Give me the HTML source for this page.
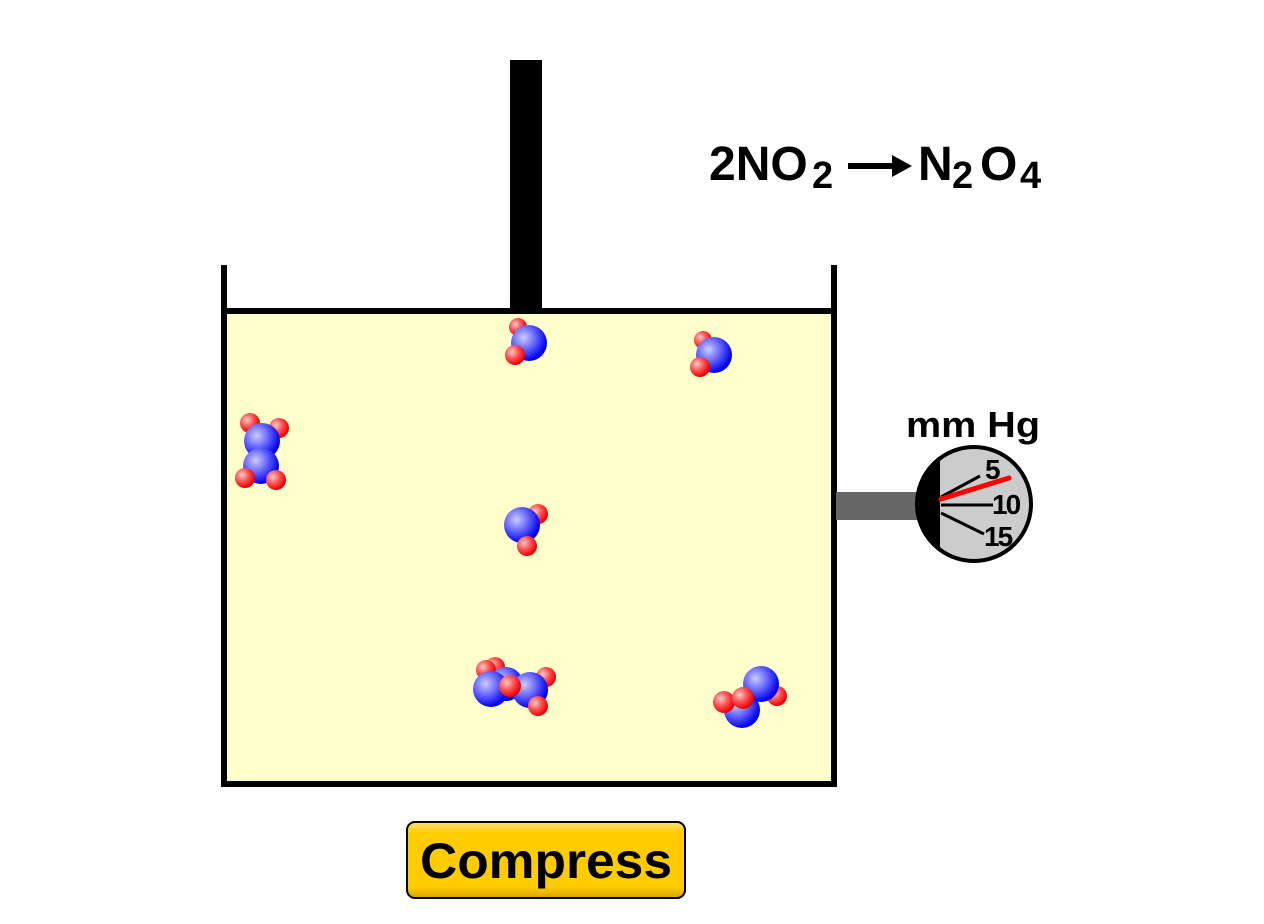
<!DOCTYPE html>
<html><head><style>body{margin:0;background:#fff}svg{display:block}</style></head><body>
<svg width="1264" height="924" viewBox="0 0 1264 924" font-family="Liberation Sans, Arial, sans-serif">
<defs>
<radialGradient id="b" cx="0.35" cy="0.35" r="0.65"><stop offset="0" stop-color="#ccccff"/><stop offset="0.5" stop-color="#6666ff"/><stop offset="1" stop-color="#0000ee"/></radialGradient>
<radialGradient id="r" cx="0.35" cy="0.35" r="0.65"><stop offset="0" stop-color="#ffcccc"/><stop offset="0.5" stop-color="#ff5555"/><stop offset="1" stop-color="#ee0000"/></radialGradient>
<linearGradient id="btn" x1="0" y1="0" x2="0" y2="1"><stop offset="0" stop-color="#ffe070"/><stop offset="0.15" stop-color="#ffcc00"/><stop offset="0.85" stop-color="#ffcc00"/><stop offset="1" stop-color="#d9a300"/></linearGradient>
</defs>
<rect x="227" y="314" width="604" height="467" fill="#ffffcc"/>
<rect x="510" y="60" width="32" height="252" fill="#000"/>
<line x1="224" y1="311" x2="834" y2="311" stroke="#000" stroke-width="6"/>
<polyline points="224,265 224,784 834,784 834,265" fill="none" stroke="#000" stroke-width="6"/>
<text x="709" y="180" font-size="48" font-weight="bold">2NO</text>
<text x="812" y="188" font-size="38" font-weight="bold">2</text>
<line x1="848" y1="166" x2="898" y2="166" stroke="#000" stroke-width="6"/>
<polygon points="912,166 892,155 892,177" fill="#000"/>
<text x="918" y="180" font-size="48" font-weight="bold">N</text>
<text x="952" y="188" font-size="38" font-weight="bold">2</text>
<text x="980" y="180" font-size="48" font-weight="bold">O</text>
<text x="1020" y="188" font-size="38" font-weight="bold">4</text>
<g>
<circle cx="518" cy="327" r="9" fill="url(#r)"/><circle cx="529" cy="343" r="18" fill="url(#b)"/><circle cx="515" cy="355" r="10" fill="url(#r)"/>
<circle cx="703" cy="340" r="9" fill="url(#r)"/><circle cx="714" cy="355" r="18" fill="url(#b)"/><circle cx="700" cy="367" r="10" fill="url(#r)"/>
<circle cx="250" cy="423" r="10" fill="url(#r)"/><circle cx="279" cy="428" r="10" fill="url(#r)"/><circle cx="262" cy="441" r="18" fill="url(#b)"/><circle cx="261" cy="466" r="18" fill="url(#b)"/><circle cx="245" cy="478" r="10" fill="url(#r)"/><circle cx="276" cy="480" r="10" fill="url(#r)"/>
<circle cx="538" cy="514" r="10" fill="url(#r)"/><circle cx="522" cy="525" r="18" fill="url(#b)"/><circle cx="527" cy="546" r="10" fill="url(#r)"/>
<circle cx="495" cy="667" r="10" fill="url(#r)"/><circle cx="486" cy="670" r="10" fill="url(#r)"/><circle cx="546" cy="677" r="10" fill="url(#r)"/><circle cx="506" cy="684" r="17" fill="url(#b)"/><circle cx="491" cy="689" r="18" fill="url(#b)"/><circle cx="530" cy="690" r="18" fill="url(#b)"/><circle cx="510" cy="686" r="11" fill="url(#r)"/><circle cx="538" cy="706" r="10" fill="url(#r)"/>
<circle cx="777" cy="696" r="10" fill="url(#r)"/><circle cx="742" cy="710" r="18" fill="url(#b)"/><circle cx="761" cy="684" r="18" fill="url(#b)"/><circle cx="724" cy="702" r="11" fill="url(#r)"/><circle cx="743" cy="698" r="11" fill="url(#r)"/>
</g>
<rect x="836" y="492" width="82" height="28" fill="#666"/>
<text x="906" y="437" font-size="36" font-weight="bold" textLength="134" lengthAdjust="spacingAndGlyphs">mm Hg</text>
<circle cx="974" cy="504" r="57" fill="#ccc" stroke="#000" stroke-width="4"/>
<path d="M940,458 A57,57 0 0 0 940,550 Z" fill="#000"/>
<line x1="941" y1="497" x2="980" y2="476" stroke="#000" stroke-width="3"/>
<line x1="941" y1="505" x2="993" y2="505" stroke="#000" stroke-width="3"/>
<line x1="941" y1="513" x2="984" y2="534" stroke="#000" stroke-width="3"/>
<line x1="941" y1="499" x2="1009" y2="478" stroke="#f00" stroke-width="5" stroke-linecap="round"/>
<text x="985" y="479" font-size="28" font-weight="bold" letter-spacing="-2">5</text>
<text x="992" y="514" font-size="28" font-weight="bold" letter-spacing="-2">10</text>
<text x="984" y="546" font-size="28" font-weight="bold" letter-spacing="-2">15</text>
<rect x="407" y="822" width="278" height="76" rx="8" fill="url(#btn)" stroke="#000" stroke-width="2"/>
<text x="546" y="878" font-size="50" font-weight="bold" text-anchor="middle" textLength="252" lengthAdjust="spacingAndGlyphs">Compress</text>
</svg>
</body></html>
